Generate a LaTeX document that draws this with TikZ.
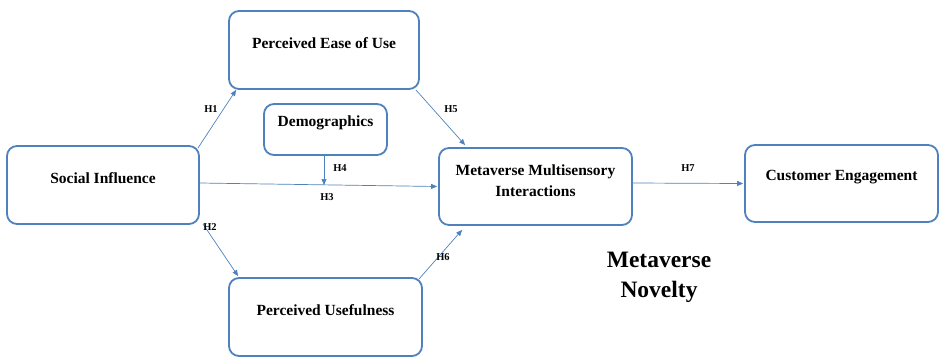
\documentclass[tikz,border=0pt]{standalone}
\usepackage{fontspec}
\setmainfont{Liberation Serif}
\usetikzlibrary{arrows.meta}
\definecolor{boxblue}{HTML}{4F81BD}
\tikzset{
  box/.style={draw=boxblue, line width=1.8pt, rounded corners=10pt, fill=white, inner sep=0pt},
  boxtext/.style={font=\bfseries\fontsize{15.5}{21}\selectfont, align=center, inner sep=0pt},
  hyp/.style={font=\bfseries\fontsize{10.5}{12}\selectfont, inner sep=0pt},
  link/.style={draw=boxblue, line width=0.7pt, -{Triangle[length=6pt,width=5pt]}}
}
\begin{document}
\begin{tikzpicture}[x=1pt,y=-1pt]
\useasboundingbox (0,0) rectangle (940,357);
% boxes
\node[box, minimum width=190pt, minimum height=78pt] (peou) at (324,50) {};
\node[boxtext] (peout) at (324,43) {Perceived Ease of Use};
\node[box, minimum width=123pt, minimum height=51pt] (demo) at (325.5,129.5) {};
\node[boxtext] (demot) at (325.5,123) {Demographics};
\node[box, minimum width=192pt, minimum height=78pt] (si) at (103,185) {};
\node[boxtext] (sit) at (103,178) {Social Influence};
\node[box, minimum width=193pt, minimum height=77pt] (mmi) at (535.5,186.5) {};
\node[boxtext] (mmit) at (535.5,180.5) {Metaverse Multisensory\\Interactions};
\node[box, minimum width=193pt, minimum height=77pt] (ce) at (841.5,183.5) {};
\node[boxtext] (cet) at (841.5,177) {Customer Engagement};
\node[box, minimum width=193pt, minimum height=78pt] (pu) at (325.5,317) {};
\node[boxtext] (put) at (325.5,310) {Perceived Usefulness};
\node[font=\bfseries\fontsize{23.5}{30}\selectfont, align=center, inner sep=0pt] (nov) at (659,277) {Metaverse\\Novelty};
% connectors
\draw[link] ([xshift=-2pt,yshift=-3pt]si.north east) -- ([xshift=8pt]peou.south west);
\draw[link] ([xshift=-4pt]peou.south east) -- ([xshift=27pt,yshift=2pt]mmi.north west);
\draw[link] ([yshift=2pt]si.east) -- ([xshift=-1pt]mmi.west);
\coordinate (h4end) at (324,185);
\draw[link] ([xshift=-1.5pt]demo.south) -- (h4end);
\draw[link] ([xshift=3pt,yshift=1pt]si.south east) -- ([xshift=10pt,yshift=1pt]pu.north west);
\draw[link] ([xshift=-4pt,yshift=-2pt]pu.north east) -- ([xshift=24pt,yshift=-4pt]mmi.south west);
\draw[link] ([yshift=3.5pt]mmi.east) -- ([xshift=-1pt]ce.west);
% labels
\node[hyp] (l1) at (211,109) {H1};
\node[hyp] (l5) at (451,109) {H5};
\node[hyp] (l4) at (340,168) {H4};
\node[hyp] (l3) at (327,197) {H3};
\node[hyp] (l2) at (210,227) {H2};
\node[hyp] (l6) at (443,257) {H6};
\node[hyp] (l7) at (688,168) {H7};
\end{tikzpicture}
\end{document}
